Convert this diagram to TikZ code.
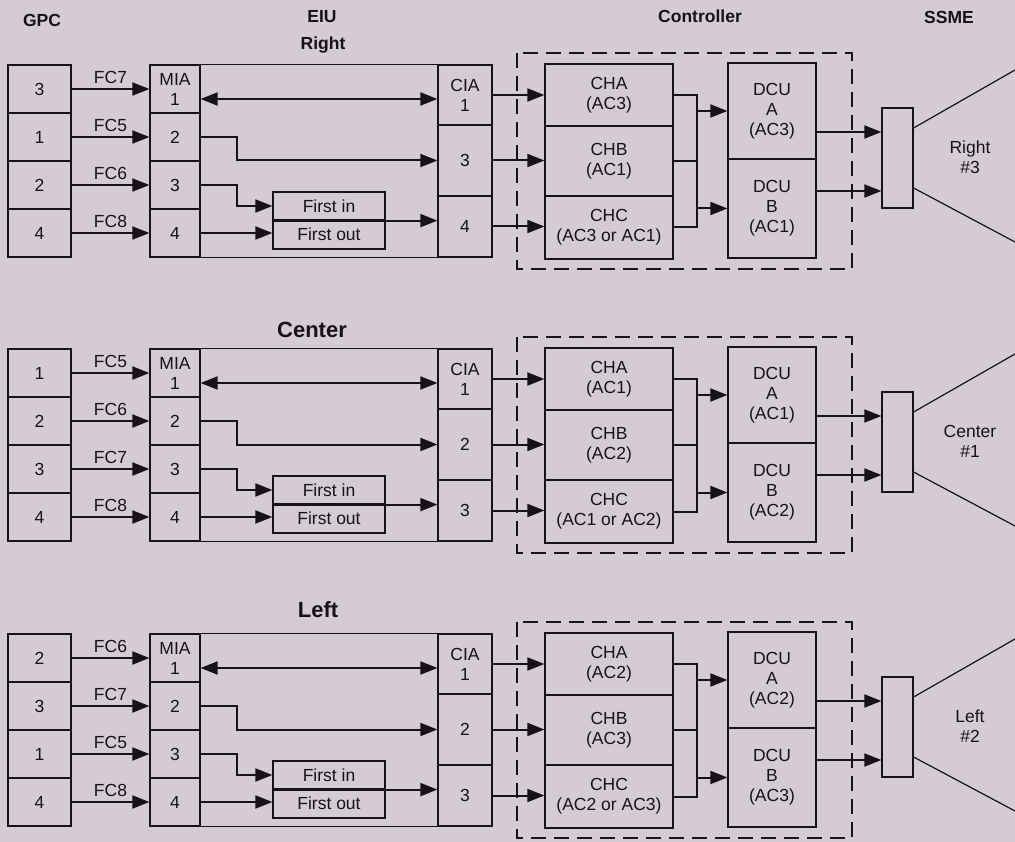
\documentclass[tikz,border=0pt]{standalone}
\usepackage{fontspec}
\setmainfont{Liberation Sans}
\usepackage{tikz}
\usetikzlibrary{arrows.meta, positioning, calc}
\usepackage{xcolor}
\definecolor{paper}{RGB}{212,203,213}
\definecolor{ink}{RGB}{22,19,24}

\begin{document}
\begin{tikzpicture}[x=1pt, y=-1pt, every node/.style={text=ink, font=\fontsize{17.5}{20}\selectfont},
    cell/.style={draw=ink, line width=1.2pt, rectangle, inner sep=0pt, align=center},
    head/.style={font=\bfseries\fontsize{17.5}{20}\selectfont},
    bighead/.style={font=\bfseries\fontsize{22}{26}\selectfont},
    link/.style={draw=ink, line width=2pt, -{Triangle[length=17pt, width=13pt]}},
    dlink/.style={draw=ink, line width=2pt, {Triangle[length=17pt, width=13pt]}-{Triangle[length=17pt, width=13pt]}},
    wire/.style={draw=ink, line width=2pt},
    frame/.style={draw=ink, line width=1.2pt},
    ctrlframe/.style={draw=ink, line width=1.7pt, dash pattern=on 15pt off 8pt}]
        \fill[paper] (0,0) rectangle (1015,842);
        \clip (0,0) rectangle (1015,842);
        % column titles
        \node[head] (hgpc) at (42,20) {GPC};
        \node[head] (heiu) at (322,17) {EIU};
        \node[head] (hctrl) at (700,16) {Controller};
        \node[head] (hssme) at (949,17) {SSME};
        \node[head] (hright) at (323,45) {Right};
        \node[bighead] (hcenter) at (312,330) {Center};
        \node[bighead] (hleft) at (318,610) {Left};
        % one block per engine
        \foreach \s/\dy/\ga/\gb/\gc/\gd/\ua/\ub/\ca/\cb/\eng/\num in
            {r/0/3/1/2/4/3/4/3/1/Right/3,
             c/284/1/2/3/4/2/3/1/2/Center/1,
             l/569/2/3/1/4/2/3/2/3/Left/2}{
        \begin{scope}[shift={(0,\dy)}]
            \foreach \g [count=\i] in {\ga,\gb,\gc,\gd}{
                \pgfmathtruncatemacro{\fc}{\g+4}
                \ifnum\i=1 \def\mia{MIA\\1}\else\edef\mia{\i}\fi
                \node[cell, minimum width=63, minimum height=48] (gpc\s\i) at (39.5,{41+48*\i}) {\g};
                \node[cell, minimum width=50, minimum height=48] (mia\s\i) at (175,{41+48*\i}) {\mia};
                \draw[link] (gpc\s\i) -- node[above=1pt] {FC\fc} (mia\s\i);
            }
            \node[cell, minimum width=54, minimum height=60] (cia\s1) at (465,95) {CIA\\1};
            \node[cell, minimum width=54, minimum height=71] (cia\s2) at (465,160.5) {\ua};
            \node[cell, minimum width=54, minimum height=61] (cia\s3) at (465,226.5) {\ub};
            \node[cell, minimum width=112, minimum height=28] (fin\s) at (329,206) {First in};
            \node[cell, minimum width=112, minimum height=29] (fout\s) at (329,234.5) {First out};
            \draw[frame] (mia\s1.north west) rectangle (cia\s3.south east);
            \coordinate (dup\s) at ($(mia\s1.east)+(0,10)$);
            \draw[dlink] (dup\s) -- (dup\s -| cia\s1.west);
            \draw[link] (mia\s2.east) -- ++(36,0) |- (cia\s2.west);
            \draw[link] (mia\s3.east) -- ++(36,0) |- (fin\s.west);
            \draw[link] (mia\s4.east) -- (mia\s4.east -| fout\s.west);
            \draw[link] (fin\s.south west) -- (fin\s.south west -| cia\s3.west);
            % controller
            \draw[ctrlframe] (517,53) rectangle (852,269);
            \node[cell, minimum width=128, minimum height=62] (cha\s) at (609,95) {CHA\\(AC\ca)};
            \node[cell, minimum width=128, minimum height=70] (chb\s) at (609,161) {CHB\\(AC\cb)};
            \node[cell, minimum width=128, minimum height=63] (chc\s) at (609,227.5) {CHC\\(AC\ca{} or AC\cb)};
            \node[cell, minimum width=88, minimum height=96] (dcua\s) at (772,111) {DCU\\A\\(AC\ca)};
            \node[cell, minimum width=88, minimum height=99] (dcub\s) at (772,208.5) {DCU\\B\\(AC\cb)};
            \draw[link] (cia\s1.east) -- (cia\s1.east -| cha\s.west);
            \draw[link] (cia\s2.east) -- (cia\s2.east -| chb\s.west);
            \draw[link] (cia\s3.east) -- (cia\s3.east -| chc\s.west);
            \draw[wire] (cha\s.east) -- ++(23,0) coordinate (bus\s) |- (chc\s.east);
            \draw[wire] (chb\s.east) -- (chb\s.east -| bus\s);
            \draw[link] (bus\s |- dcua\s.west) -- (dcua\s.west);
            \draw[link] (bus\s |- dcub\s.west) -- (dcub\s.west);
            % engine
            \node[cell, minimum width=31, minimum height=100] (ssme\s) at (897.5,158) {};
            \node[align=center] (eng\s) at (970,157) {\eng\\\#\num};
            \coordinate (oa\s) at ($(ssme\s.west)+(0,-26)$);
            \coordinate (ob\s) at ($(ssme\s.west)+(0,33)$);
            \draw[link] (oa\s -| dcua\s.east) -- (oa\s);
            \draw[link] (ob\s -| dcub\s.east) -- (ob\s);
            \coordinate (nt\s) at (1015,70);
            \coordinate (nb\s) at (1015,242);
            \draw[frame] ($(ssme\s.east)+(0,-30)$) -- (nt\s);
            \draw[frame] ($(ssme\s.east)+(0,30)$) -- (nb\s);
        \end{scope}
        }
\end{tikzpicture}
\end{document}
